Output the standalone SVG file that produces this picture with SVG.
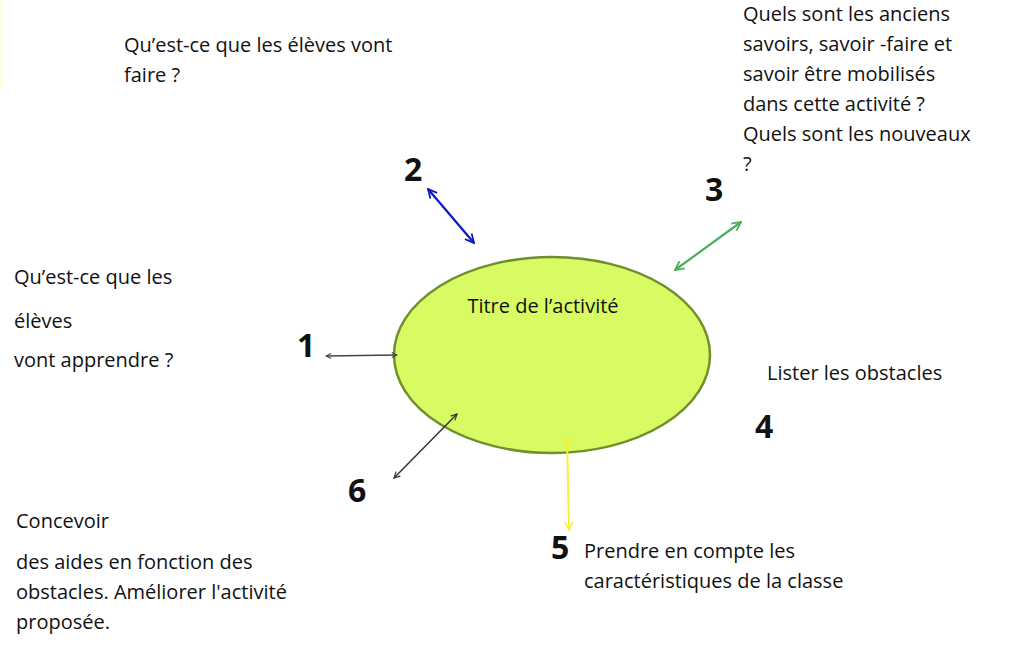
<svg xmlns="http://www.w3.org/2000/svg" width="1024" height="654" viewBox="0 0 1024 654">
<style>
.t{font-family:"Open Sans","Noto Sans",sans-serif;font-size:20px;fill:#111}
.n{font-family:"Open Sans","Noto Sans",sans-serif;font-size:32px;font-weight:bold;fill:#111}
</style>
<defs>
<marker id="a" viewBox="0 0 10 10" refX="9" refY="5" markerWidth="5" markerHeight="5" orient="auto-start-reverse"><path d="M1 1L9 5L1 9" fill="none" stroke="context-stroke" stroke-width="1.6"/></marker>
</defs>
<rect width="1024" height="654" fill="#fff"/>
<rect x="0" y="0" width="3" height="90" fill="#fbffe8"/>
<g id="center">
<ellipse cx="552" cy="355" rx="158" ry="98" fill="#d8fb64" stroke="#6f8f2c" stroke-width="2.5"/>
<text class="t" x="543" y="313" text-anchor="middle">Titre de l’activité</text>
</g>
<g id="connectors" fill="none">
<line x1="326" y1="356" x2="397" y2="355" stroke="#444" stroke-width="1.3" marker-start="url(#a)" marker-end="url(#a)"/>
<line x1="428" y1="189" x2="474" y2="243" stroke="#0a14c8" stroke-width="2.2" marker-start="url(#a)" marker-end="url(#a)"/>
<line x1="741" y1="222" x2="675" y2="270" stroke="#4aae5a" stroke-width="2.2" marker-start="url(#a)" marker-end="url(#a)"/>
<line x1="394" y1="478" x2="457" y2="414" stroke="#333" stroke-width="1.5" marker-start="url(#a)" marker-end="url(#a)"/>
<line x1="567" y1="437" x2="569" y2="530" stroke="#f5f03c" stroke-width="2" marker-start="url(#a)" marker-end="url(#a)"/>
</g>
<g id="n1"><text class="n" x="297" y="357">1</text>
<text class="t" x="14" y="284">Qu’est-ce que les</text><text class="t" x="14" y="328">élèves</text><text class="t" x="14" y="367">vont apprendre ?</text></g>
<g id="n2"><text class="n" x="404" y="181">2</text>
<text class="t" x="124" y="52">Qu’est-ce que les élèves vont</text><text class="t" x="124" y="82">faire ?</text></g>
<g id="n3"><text class="n" x="705" y="201">3</text>
<text class="t" x="743" y="21">Quels sont les anciens</text><text class="t" x="743" y="51">savoirs, savoir -faire et</text><text class="t" x="743" y="81">savoir être mobilisés</text><text class="t" x="743" y="111">dans cette activité ?</text><text class="t" x="743" y="141">Quels sont les nouveaux</text><text class="t" x="743" y="171">?</text></g>
<g id="n4"><text class="n" x="755" y="438">4</text><text class="t" x="767" y="380">Lister les obstacles</text></g>
<g id="n5"><text class="n" x="551" y="559">5</text><text class="t" x="584" y="558">Prendre en compte les</text><text class="t" x="584" y="588">caractéristiques de la classe</text></g>
<g id="n6"><text class="n" x="348" y="502">6</text><text class="t" x="16" y="528">Concevoir</text><text class="t" x="16" y="569">des aides en fonction des</text><text class="t" x="16" y="599">obstacles. Améliorer l'activité</text><text class="t" x="16" y="629">proposée.</text></g>
</svg>
